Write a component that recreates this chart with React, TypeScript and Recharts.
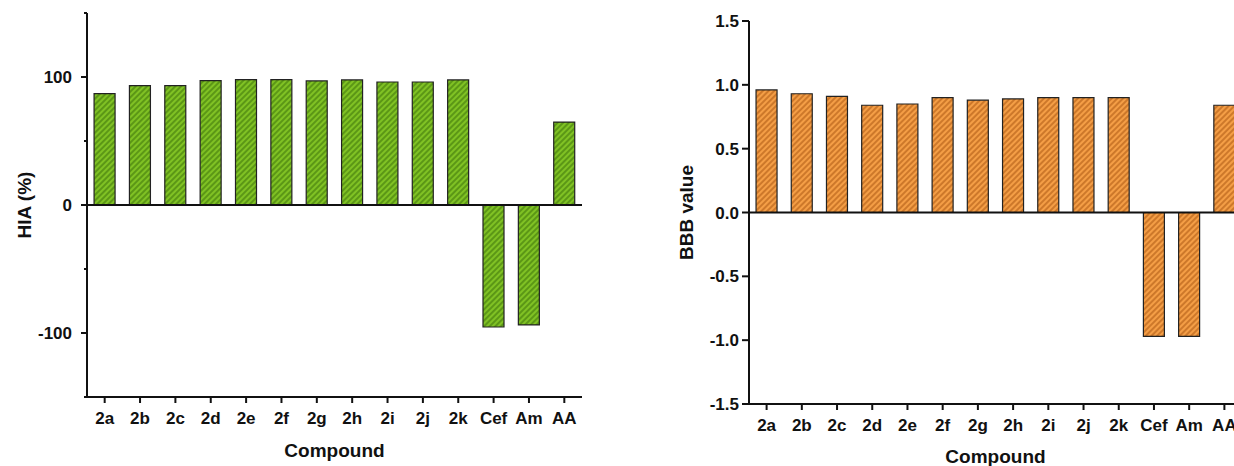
import { Bar, BarChart, ReferenceLine, XAxis, YAxis } from 'recharts';

const compounds = ['2a', '2b', '2c', '2d', '2e', '2f', '2g', '2h', '2i', '2j', '2k', 'Cef', 'Am', 'AA'];
const hiaValues = [87.0, 93.2, 93.2, 97.1, 97.9, 98.0, 96.9, 97.7, 96.1, 96.1, 97.7, -95.3, -93.7, 64.8];
const bbbValues = [0.96, 0.93, 0.91, 0.84, 0.85, 0.9, 0.88, 0.89, 0.9, 0.9, 0.9, -0.97, -0.97, 0.84];
const hiaTicks = [-150, -100, -50, 0, 50, 100, 150];
const hiaLabelled = [-100, 0, 100];
const bbbTicks = [-1.5, -1.0, -0.5, 0, 0.5, 1.0, 1.5];

const FONT = '"Liberation Sans", Arial, sans-serif';
const INK = '#111';
const tickStyle = { fill: INK, fontSize: 17, fontWeight: 700, fontFamily: FONT };
const titleStyle = { fill: INK, fontSize: 19, fontWeight: 700, fontFamily: FONT };

const hiaData = compounds.map((name, i) => ({ name, value: hiaValues[i] }));
const bbbData = compounds.map((name, i) => ({ name, value: bbbValues[i] }));

const HIA_TICK_SIZE = 6;
const HIA_TICK_MARGIN = 9;

// origin-style y ticks: labelled majors, short unlabelled minors
function HiaTick(props: any) {
  const { x, y, payload } = props;
  const axisX = x + HIA_TICK_MARGIN + HIA_TICK_SIZE;
  const major = hiaLabelled.includes(payload.value);
  return (
    <g>
      <line x1={axisX - (major ? 6 : 3)} x2={axisX} y1={y} y2={y} stroke={INK} strokeWidth={2} />
      {major && (
        <text x={x} y={y} dy="0.36em" textAnchor="end" style={tickStyle}>
          {payload.value}
        </text>
      )}
    </g>
  );
}

function Hatch({ id, base, line }: { id: string; base: string; line: string }) {
  return (
    <defs>
      <pattern id={id} width={4} height={4} patternUnits="userSpaceOnUse" patternTransform="rotate(45)">
        <rect width={4} height={4} fill={base} />
        <line x1={1} y1={0} x2={1} y2={4} stroke={line} strokeWidth={1.6} />
      </pattern>
    </defs>
  );
}

export default function App() {
  return (
    <div
      style={{
        position: 'fixed',
        left: 0,
        top: 0,
        width: 1234,
        height: 466,
        overflow: 'hidden',
        background: '#fff',
      }}
    >
      <div style={{ position: 'absolute', left: 0, top: 0 }}>
        <BarChart
          width={600}
          height={466}
          data={hiaData}
          margin={{ top: 13, right: 18, bottom: 0, left: 0 }}
          barCategoryGap="20%"
        >
          <Hatch id="greenHatch" base="#80c224" line="#528c12" />
          <XAxis
            dataKey="name"
            height={69}
            tick={tickStyle}
            tickSize={6}
            tickMargin={9}
            tickLine={{ stroke: INK, strokeWidth: 2 }}
            axisLine={{ stroke: INK, strokeWidth: 2 }}
            interval={0}
            label={{ value: 'Compound', position: 'insideBottom', offset: 9, style: titleStyle }}
          />
          <YAxis
            width={87}
            domain={[-150, 150]}
            ticks={hiaTicks}
            interval={0}
            tickSize={HIA_TICK_SIZE}
            tickMargin={HIA_TICK_MARGIN}
            tickLine={false}
            tick={<HiaTick />}
            axisLine={{ stroke: INK, strokeWidth: 2 }}
            label={{
              value: 'HIA (%)',
              angle: -90,
              position: 'insideLeft',
              offset: 24,
              style: { ...titleStyle, textAnchor: 'middle' },
            }}
          />
          <Bar
            dataKey="value"
            fill="url(#greenHatch)"
            stroke="#222"
            strokeWidth={1.2}
            isAnimationActive={false}
          />
          <ReferenceLine y={0} stroke={INK} strokeWidth={2} />
        </BarChart>
      </div>

      <div style={{ position: 'absolute', left: 660, top: 0 }}>
        <BarChart
          width={600}
          height={466}
          data={bbbData}
          margin={{ top: 21, right: 18, bottom: 0, left: 0 }}
          barCategoryGap="20%"
        >
          <Hatch id="orangeHatch" base="#f49e46" line="#c46e22" />
          <XAxis
            dataKey="name"
            height={62}
            tick={tickStyle}
            tickSize={6}
            tickMargin={9}
            tickLine={{ stroke: INK, strokeWidth: 2 }}
            axisLine={{ stroke: INK, strokeWidth: 2 }}
            interval={0}
            label={{ value: 'Compound', position: 'insideBottom', offset: 3, style: titleStyle }}
          />
          <YAxis
            width={89}
            domain={[-1.5, 1.5]}
            ticks={bbbTicks}
            interval={0}
            tickSize={7}
            tickMargin={3}
            tick={tickStyle}
            tickFormatter={(v: number) => v.toFixed(1)}
            tickLine={{ stroke: INK, strokeWidth: 2 }}
            axisLine={{ stroke: INK, strokeWidth: 2 }}
            label={{
              value: 'BBB value',
              angle: -90,
              position: 'insideLeft',
              offset: 26,
              style: { ...titleStyle, textAnchor: 'middle' },
            }}
          />
          <Bar
            dataKey="value"
            fill="url(#orangeHatch)"
            stroke="#222"
            strokeWidth={1.2}
            isAnimationActive={false}
          />
          <ReferenceLine y={0} stroke={INK} strokeWidth={2} />
        </BarChart>
      </div>
    </div>
  );
}
